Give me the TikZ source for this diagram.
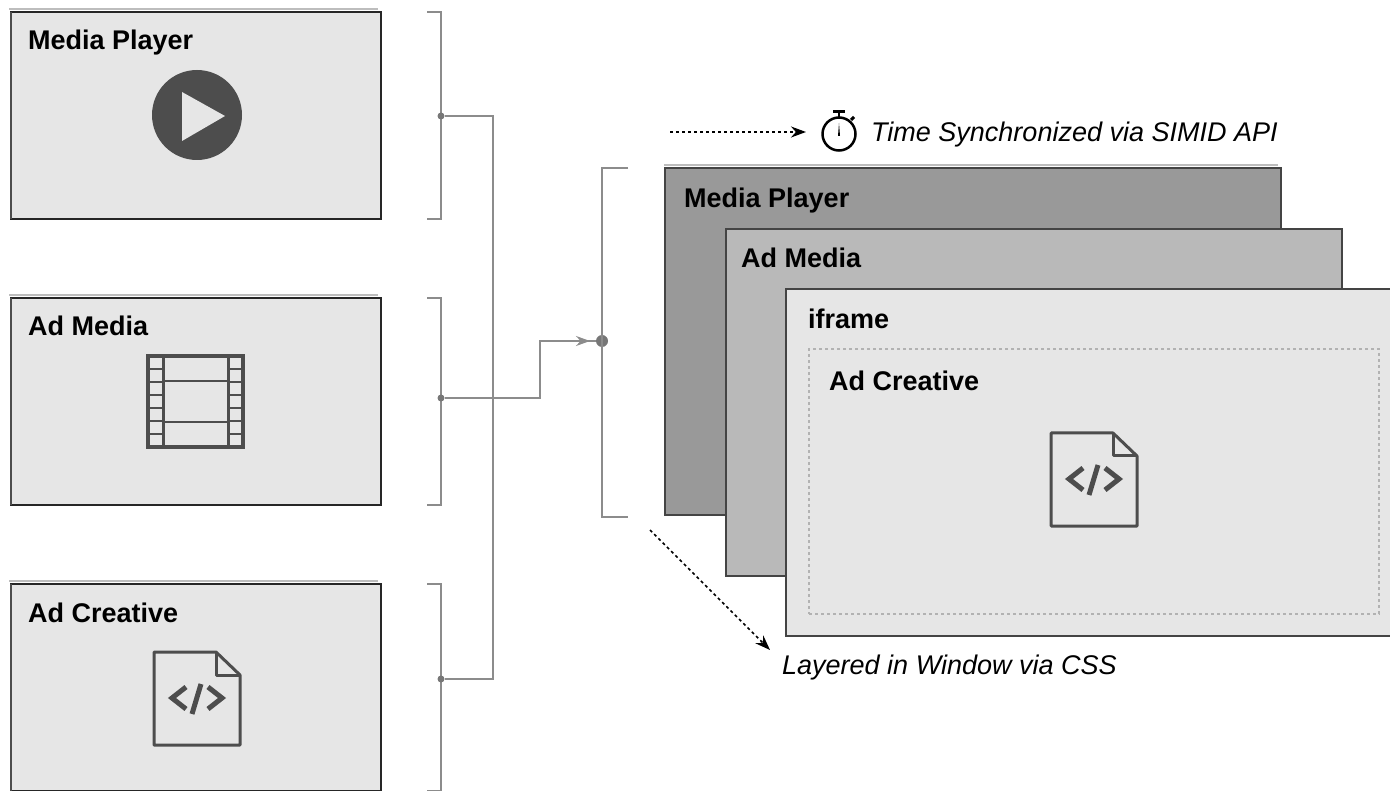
\documentclass[tikz,border=0pt]{standalone}
\usepackage{fontspec}
\setmainfont{Liberation Sans}
\usetikzlibrary{arrows.meta}
\definecolor{boxgray}{HTML}{E6E6E6}
\definecolor{playergray}{HTML}{999999}
\definecolor{mediagray}{HTML}{B9B9B9}
\definecolor{icongray}{HTML}{4D4D4D}
\definecolor{wiregray}{HTML}{8C8C8C}
\definecolor{edgegray}{HTML}{444444}
\definecolor{shadowgray}{HTML}{BDBDBD}
\tikzset{
  panel/.style={draw=black!85,fill=boxgray,line width=1.5pt,anchor=north west,
    inner sep=0pt,outer sep=0pt,minimum width=370pt,minimum height=207pt},
  layer/.style={draw=edgegray,line width=2pt,anchor=north west,
    inner sep=0pt,outer sep=0pt,minimum width=616pt,minimum height=347pt},
  title/.style={anchor=base west,inner sep=0pt,font=\fontsize{27}{30}\selectfont\bfseries},
  remark/.style={anchor=base west,inner sep=0pt,font=\fontsize{27}{30}\selectfont\itshape},
  bracket/.style={draw=wiregray,line width=2pt},
  wire/.style={draw=wiregray,line width=1.6pt},
  dot/.style={circle,fill=wiregray!85!black,inner sep=0pt,minimum size=7pt},
  fileicon/.pic={
    \path[draw,color=icongray,line width=3pt,line join=round]
      (0,0)--(62,0)--(86,23)--(86,93)--(0,93)--cycle;
    \path[draw,color=icongray,line width=3pt,line join=round] (62,0)--(62,23)--(86,23);
    \path[draw,color=icongray,line width=5pt] (32,35)--(18,46)--(32,57);
    \path[draw,color=icongray,line width=5pt] (47,32)--(38,62);
    \path[draw,color=icongray,line width=5pt] (54,35)--(68,46)--(54,57);
  }
}
\begin{document}
\begin{tikzpicture}[x=1pt,y=-1pt]
  \useasboundingbox (0,0) rectangle (1390,791);
  \clip (0,0) rectangle (1390,791);
  %left column
  \node[panel] (player) at (11,12) {};
  \node[panel] (admedia) at (11,298) {};
  \node[panel] (creative) at (11,584) {};
  \path[draw,color=shadowgray,line width=2pt] (9,9)--(378,9);
  \path[draw,color=shadowgray,line width=2pt] (9,295)--(378,295);
  \path[draw,color=shadowgray,line width=2pt] (9,581)--(378,581);
  \path[draw,color=icongray,line width=2pt] (11,12)--(11,219);
  \path[draw,color=icongray,line width=2pt] (11,298)--(11,505);
  \path[draw,color=icongray,line width=2pt] (11,584)--(11,791);
  \node[title] (playertitle) at (28,50) {Media Player};
  \node[title] (admediatitle) at (28,336) {Ad Media};
  \node[title] (creativetitle) at (28,622) {Ad Creative};
  %play icon
  \path[fill=icongray] (197,115) circle (45pt);
  \path[fill=boxgray] (182,92)--(225,116)--(182,141)--cycle;
  %film icon
  \path[draw,color=icongray,line width=3.5pt] (148,356) rectangle (243,447);
  \path[draw,color=icongray,line width=3pt] (163,356)--(163,447);
  \path[draw,color=icongray,line width=3pt] (228,356)--(228,447);
  \path[draw,color=icongray,line width=2.5pt] (163,381)--(228,381);
  \path[draw,color=icongray,line width=2.5pt] (163,422)--(228,422);
  \foreach \y in {369,382,395,408,421,434}{
    \path[draw,color=icongray,line width=2.5pt] (148,\y)--(163,\y);
    \path[draw,color=icongray,line width=2.5pt] (228,\y)--(243,\y);
  }
  \path (154,652) pic {fileicon};
  %brackets and wires
  \path[bracket] ([xshift=46pt]player.north east)--++(14,0)--++(0,207)--++(-14,0);
  \path[bracket] ([xshift=46pt]admedia.north east)--++(14,0)--++(0,207)--++(-14,0);
  \path[bracket] ([xshift=46pt]creative.north east)--++(14,0)--++(0,207)--++(-14,0);
  \node[dot] (playerdot) at (441,116) {};
  \node[dot] (admediadot) at (441,398) {};
  \node[dot] (creativedot) at (441,679) {};
  \coordinate (trunktop) at (493,116);
  \coordinate (trunkbottom) at (493,679);
  \coordinate (elbow) at (540,398);
  \path[wire] (playerdot)--(trunktop)--(trunkbottom)--(creativedot);
  \path[wire] (admediadot)--(elbow)--(540,341)--(602,341);
  %right stack
  \node[layer,fill=playergray] (layerplayer) at (665,168) {};
  \node[layer,fill=mediagray] (layermedia) at (726,229) {};
  \node[layer,fill=boxgray,minimum width=640pt] (layeriframe) at (786,289) {};
  \path[draw,color=shadowgray,line width=2pt] (664,165)--(1278,165);
  \path[draw,color=edgegray,line width=2.5pt] (665,168)--(665,515);
  \node[draw=black!30,dashed,line width=2pt,anchor=north west,inner sep=0pt,outer sep=0pt,
    minimum width=570pt,minimum height=265pt] (safearea) at (809,349) {};
  \node[title] (layerplayertitle) at (684,208) {Media Player};
  \node[title] (layermediatitle) at (741,268) {Ad Media};
  \node[title] (layeriframetitle) at (808,329) {iframe};
  \node[title] (safeareatitle) at (829,391) {Ad Creative};
  \path (1051,433) pic {fileicon};
  %bracket of the stack
  \coordinate (stacktop) at (628,168);
  \coordinate (stackbottom) at (628,517);
  \node[dot,minimum size=12pt] (stackdot) at (602,341) {};
  \path[bracket] (stacktop)--(602,168)--(602,517)--(stackbottom);
  \coordinate (stackarrow) at (590,341);
  \path[wire,-{Stealth[length=14pt,width=10pt]}] (elbow|-stackarrow)--(stackarrow);
  %remarks
  \coordinate (timestart) at (670,132);
  \coordinate (timeend) at (806,132);
  \path[draw,dashed,line width=1.6pt,-{Stealth[length=15pt,width=11pt]}] (timestart)--(timeend);
  \coordinate (layerstart) at (650,530);
  \coordinate (layerend) at (770,650);
  \path[draw,dashed,line width=1.6pt,-{Stealth[length=15pt,width=11pt]}] (layerstart)--(layerend);
  \node[remark] (timeremark) at (871,142) {Time Synchronized via SIMID API};
  \node[remark] (layerremark) at (782,674) {Layered in Window via CSS};
  %stopwatch
  \path[draw,color=black,line width=2.5pt] (839,134) circle (16.5pt);
  \path[draw,color=black,line width=3pt] (833,112)--(845,112);
  \path[draw,color=black,line width=2.5pt] (839,112)--(839,118);
  \path[draw,color=black,line width=3pt] (851,120)--(854,117);
  \path[fill=black] (838,136)--(839,123)--(840,136)--cycle;
\end{tikzpicture}
\end{document}
